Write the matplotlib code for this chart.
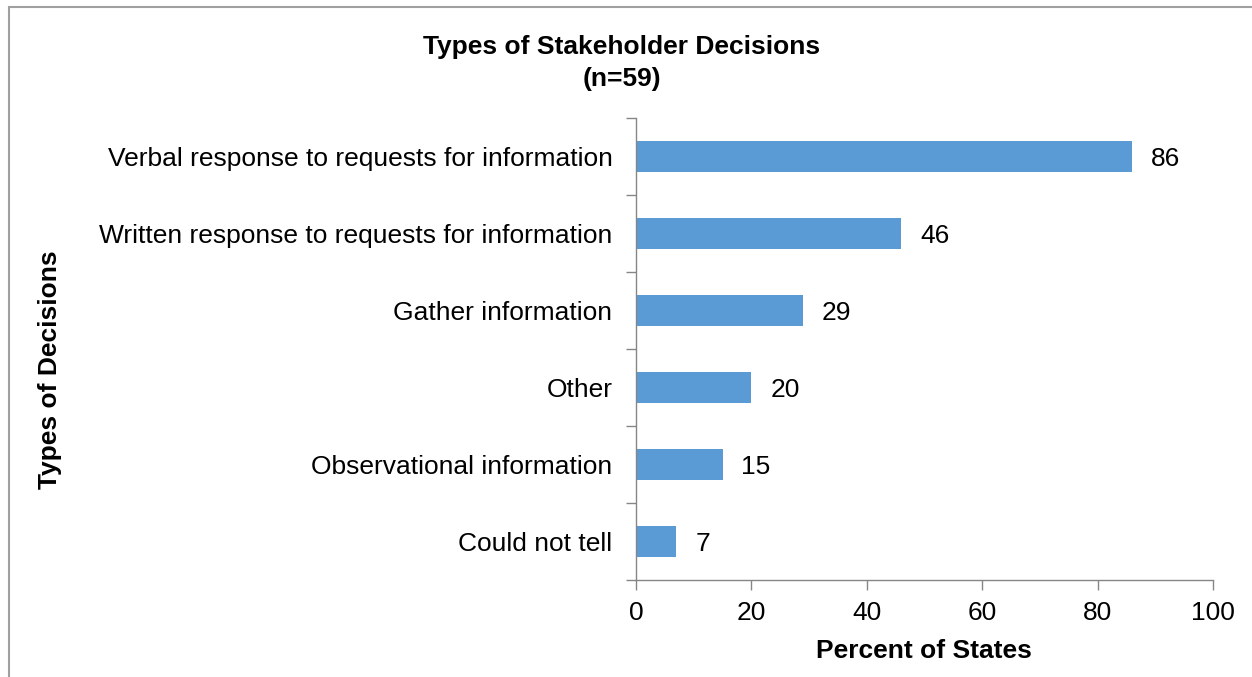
import numpy as np
import matplotlib.pyplot as plt
from matplotlib.patches import Rectangle

plt.rcParams['font.family'] = ['Liberation Sans', 'DejaVu Sans']

categories = [
    'Verbal response to requests for information',
    'Written response to requests for information',
    'Gather information',
    'Other',
    'Observational information',
    'Could not tell',
]
percents = [86, 46, 29, 20, 15, 7]
x_ticks = [0, 20, 40, 60, 80, 100]

bar_color = '#5B9BD5'
axis_color = '#868686'
fs = 19

fig = plt.figure(figsize=(12.52, 6.77), dpi=100)
ax = fig.add_axes([636 / 1252, 1 - 580 / 677, (1213 - 636) / 1252, (580 - 118) / 677])

# chart frame
fig.patches.append(Rectangle((8.5 / 1252, -0.1), 1.2, 1 - 6.5 / 677 + 0.1,
                             transform=fig.transFigure, fill=False,
                             edgecolor='#A0A0A0', linewidth=1.5))

y = np.arange(len(categories))[::-1]
ax.barh(y, percents, height=0.4, color=bar_color, zorder=2)
for yi, v in zip(y, percents):
    ax.annotate(str(v), (v, yi), xytext=(13.5, 0), textcoords='offset points',
                va='center_baseline', ha='left', fontsize=fs)

ax.set_xlim(0, 100)
ax.set_ylim(-0.5, len(categories) - 0.5)
ax.set_xticks(x_ticks)
ax.set_yticks(y)
ax.set_yticklabels(categories)
ax.set_yticks(np.arange(-0.5, len(categories)), minor=True)
ax.tick_params(axis='y', which='major', length=0, pad=17, labelsize=fs)
ax.tick_params(axis='y', which='minor', length=7, color=axis_color, width=1)
ax.tick_params(axis='x', length=7, color=axis_color, width=1, labelsize=fs, pad=8)

for side in ['top', 'right']:
    ax.spines[side].set_visible(False)
for side in ['left', 'bottom']:
    ax.spines[side].set_color(axis_color)
    ax.spines[side].set_linewidth(1)

fig.text(622 / 1252, 1 - 47 / 677, 'Types of Stakeholder Decisions', ha='center',
         va='center', fontsize=fs, fontweight='bold')
fig.text(622 / 1252, 1 - 79 / 677, '(n=59)', ha='center', va='center',
         fontsize=fs, fontweight='bold')
fig.text(924 / 1252, 1 - 651 / 677, 'Percent of States', ha='center', va='center',
         fontsize=fs, fontweight='bold')
fig.text(50 / 1252, 1 - 370 / 677, 'Types of Decisions', ha='center', va='center',
         rotation=90, fontsize=fs, fontweight='bold')

fig.savefig('out.png', dpi=100)
